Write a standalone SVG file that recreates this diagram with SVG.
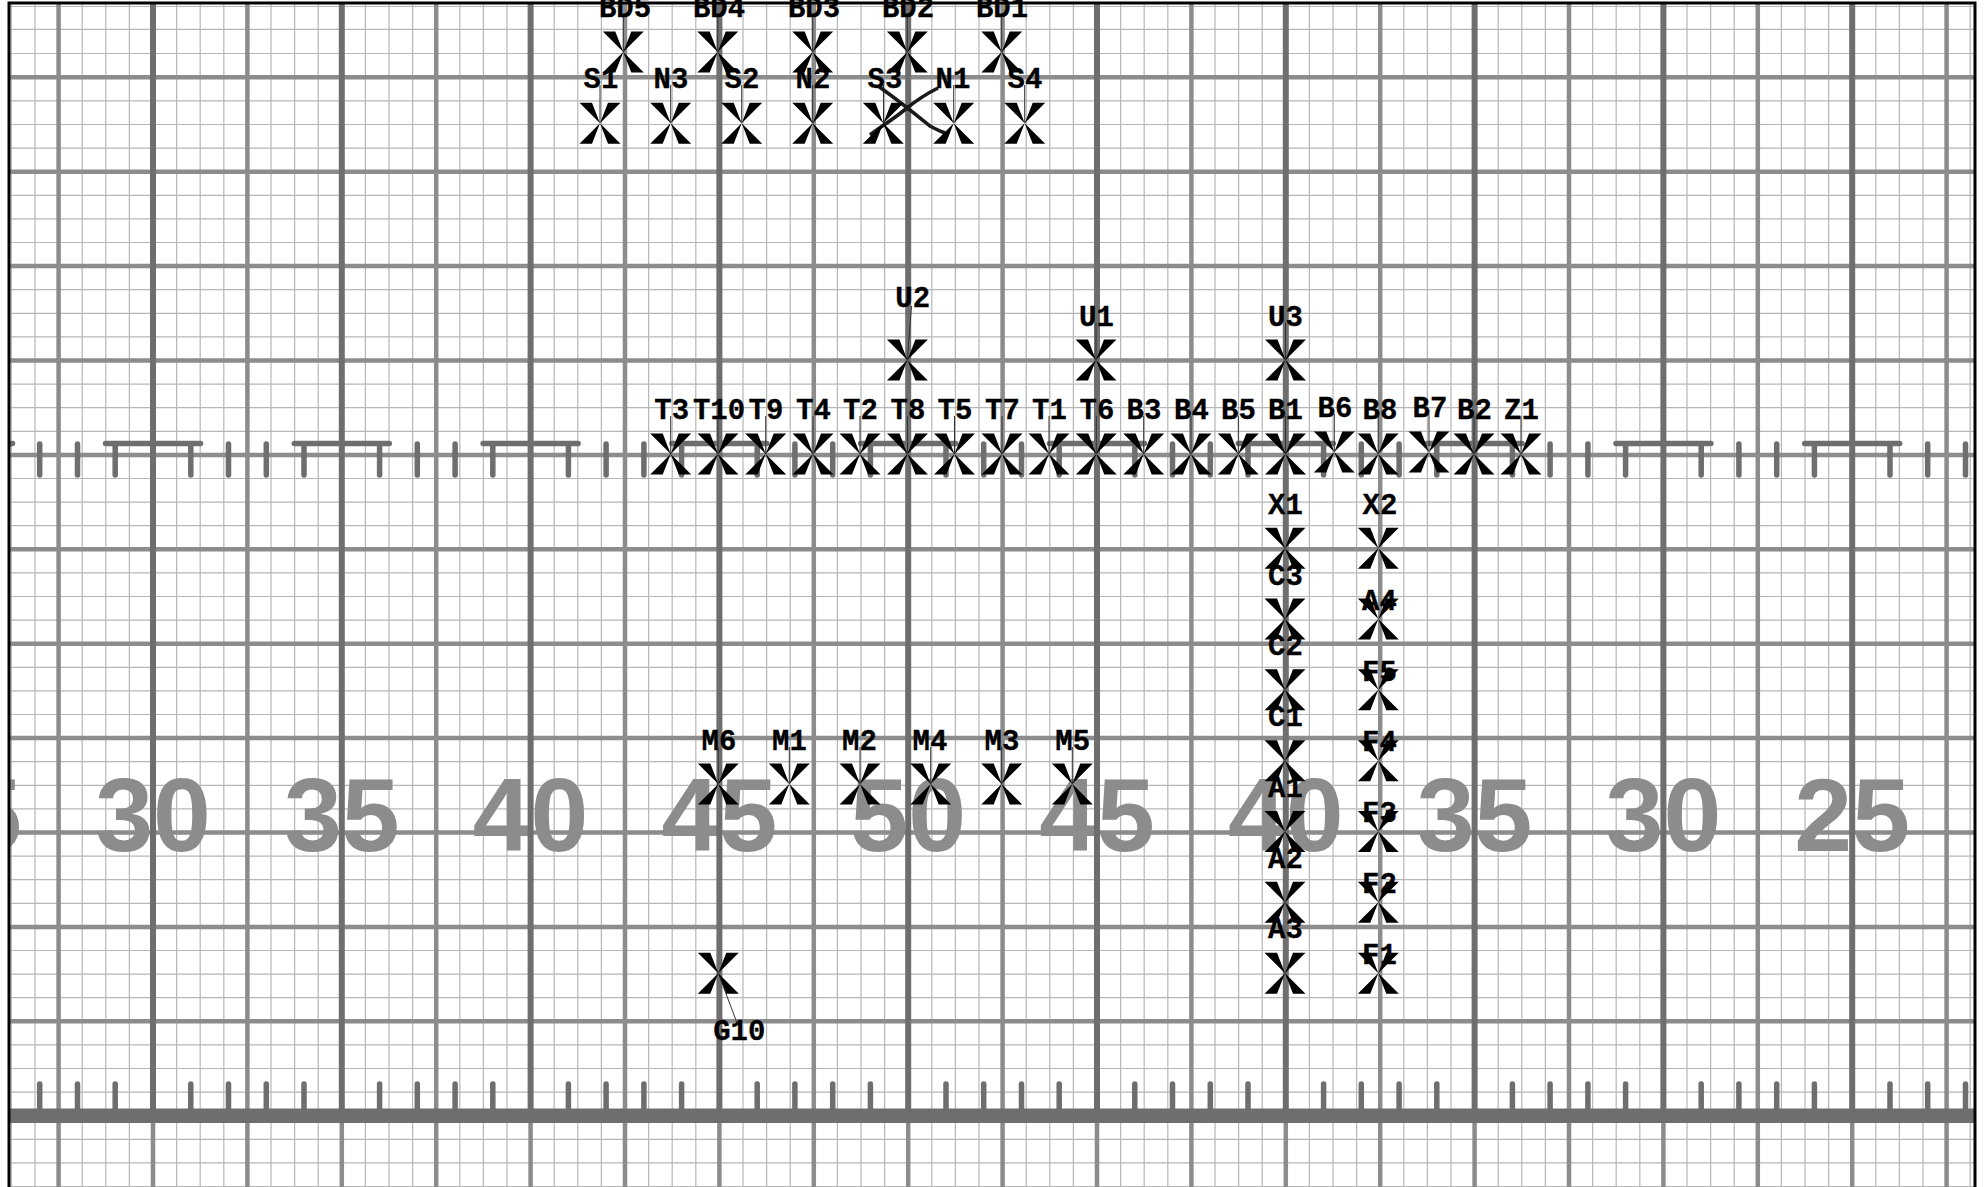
<svg xmlns="http://www.w3.org/2000/svg" width="1984" height="1187" viewBox="0 0 1984 1187">
<style>
.n{stroke:#b6b6b6;stroke-width:1.2;fill:none}
.g{stroke:#8c8c8c;stroke-width:4.5;fill:none}
.d{stroke:#6e6e6e;stroke-width:6;fill:none}
.t{stroke:#6e6e6e;stroke-width:5.5;stroke-linecap:round;fill:none}
.big{font:bold 104px "Liberation Sans",Arial,sans-serif;fill:#8c8c8c;text-anchor:middle}
.l{font:bold 29px "Liberation Mono","Courier New",monospace;fill:#000;text-anchor:middle;stroke:#000;stroke-width:.3}
.w{stroke:#333;stroke-width:1;fill:none}
.c{stroke:#1a1a1a;stroke-width:3.6;fill:none}
</style>
<defs>
<clipPath id="f"><rect x="9" y="3" width="1966" height="1184"/></clipPath>
<path id="x" d="M0 0L-20.5 -20.5H-8ZM0 0L20.5 -20.5H8ZM0 0L-20.5 20.5H-8ZM0 0L20.5 20.5H8Z" fill="#000"/>
</defs>
<rect width="1984" height="1187" fill="#fff"/>
<g id="grid" clip-path="url(#f)">
<path class="n" d="M11.4 0V1187M35 0V1187M82.2 0V1187M105.8 0V1187M129.4 0V1187M176.6 0V1187M200.2 0V1187M223.8 0V1187M271 0V1187M294.6 0V1187M318.2 0V1187M365.4 0V1187M389 0V1187M412.6 0V1187M459.8 0V1187M483.4 0V1187M507 0V1187M554.2 0V1187M577.8 0V1187M601.4 0V1187M648.6 0V1187M672.2 0V1187M695.8 0V1187M743 0V1187M766.6 0V1187M790.2 0V1187M837.4 0V1187M861 0V1187M884.6 0V1187M931.8 0V1187M955.4 0V1187M979 0V1187M1026.2 0V1187M1049.8 0V1187M1073.4 0V1187M1120.6 0V1187M1144.2 0V1187M1167.8 0V1187M1215 0V1187M1238.6 0V1187M1262.2 0V1187M1309.4 0V1187M1333 0V1187M1356.6 0V1187M1403.8 0V1187M1427.4 0V1187M1451 0V1187M1498.2 0V1187M1521.8 0V1187M1545.4 0V1187M1592.6 0V1187M1616.2 0V1187M1639.8 0V1187M1687 0V1187M1710.6 0V1187M1734.2 0V1187M1781.4 0V1187M1805 0V1187M1828.6 0V1187M1875.8 0V1187M1899.4 0V1187M1923 0V1187M1970.2 0V1187"/>
<path class="n" d="M0 6.5H1984M0 29.3H1984M0 53.5H1984M0 100.9H1984M0 124.5H1984M0 148.1H1984M0 195.3H1984M0 218.9H1984M0 242.5H1984M0 289.7H1984M0 313.3H1984M0 336.9H1984M0 384.1H1984M0 407.7H1984M0 431.3H1984M0 478.5H1984M0 502.1H1984M0 525.7H1984M0 572.9H1984M0 596.5H1984M0 620.1H1984M0 667.3H1984M0 690.9H1984M0 714.5H1984M0 761.7H1984M0 785.3H1984M0 808.9H1984M0 856.1H1984M0 879.7H1984M0 903.3H1984M0 950.5H1984M0 974.1H1984M0 997.7H1984M0 1044.9H1984M0 1068.5H1984M0 1092.1H1984M0 1139.3H1984M0 1162.9H1984M0 1186.5H1984"/>
<path class="g" d="M0 77.3H1984M0 171.7H1984M0 266.1H1984M0 360.5H1984M0 454.9H1984M0 549.3H1984M0 643.7H1984M0 738.1H1984M0 832.5H1984M0 926.9H1984M0 1021.3H1984"/>
<path class="g" d="M58.6 0V1187M247.4 0V1187M436.2 0V1187M625 0V1187M813.8 0V1187M1002.6 0V1187M1191.4 0V1187M1380.2 0V1187M1569 0V1187M1757.8 0V1187M1946.6 0V1187"/>
<path class="g" d="M153 1115V1187M341.8 1115V1187M530.6 1115V1187M719.4 1115V1187M908.2 1115V1187M1097 1115V1187M1285.8 1115V1187M1474.6 1115V1187M1663.4 1115V1187M1852.2 1115V1187"/>
<text class="big" x="-36" y="850.5">25</text><text class="big" x="153" y="850.5">30</text><text class="big" x="341.8" y="850.5">35</text><text class="big" x="530.6" y="850.5">40</text><text class="big" x="719.4" y="850.5">45</text><text class="big" x="908.2" y="850.5">50</text><text class="big" x="1097" y="850.5">45</text><text class="big" x="1285.8" y="850.5">40</text><text class="big" x="1474.6" y="850.5">35</text><text class="big" x="1663.4" y="850.5">30</text><text class="big" x="1852.2" y="850.5">25</text>
<path class="d" d="M153 0V1115M341.8 0V1115M530.6 0V1115M719.4 0V1115M908.2 0V1115M1097 0V1115M1285.8 0V1115M1474.6 0V1115M1663.4 0V1115M1852.2 0V1115"/>
<rect x="0" y="1108.5" width="1984" height="14.5" fill="#6e6e6e"/>
<path class="t" d="M39.7 444V475M77.5 444V475M115.2 444V475M190.8 444V475M228.5 444V475M266.3 444V475M304 444V475M379.6 444V475M417.3 444V475M455.1 444V475M492.8 444V475M568.4 444V475M606.1 444V475M643.9 444V475M681.6 444V475M757.2 444V475M794.9 444V475M832.7 444V475M870.4 444V475M946 444V475M983.7 444V475M1021.5 444V475M1059.2 444V475M1134.8 444V475M1172.5 444V475M1210.3 444V475M1248 444V475M1323.6 444V475M1361.3 444V475M1399.1 444V475M1436.8 444V475M1512.4 444V475M1550.1 444V475M1587.9 444V475M1625.6 444V475M1701.2 444V475M1738.9 444V475M1776.7 444V475M1814.4 444V475M1890 444V475M1927.7 444V475M1965.5 444V475"/>
<path class="t" d="M-85 443.5H12.5M105.5 443.5H200.5M294.3 443.5H389.3M483.1 443.5H578.1M671.9 443.5H766.9M860.7 443.5H955.7M1049.5 443.5H1144.5M1238.3 443.5H1333.3M1427.1 443.5H1522.1M1615.9 443.5H1710.9M1804.7 443.5H1899.7"/>
<path class="t" d="M39.7 1084V1112M77.5 1084V1112M115.2 1084V1112M190.8 1084V1112M228.5 1084V1112M266.3 1084V1112M304 1084V1112M379.6 1084V1112M417.3 1084V1112M455.1 1084V1112M492.8 1084V1112M568.4 1084V1112M606.1 1084V1112M643.9 1084V1112M681.6 1084V1112M757.2 1084V1112M794.9 1084V1112M832.7 1084V1112M870.4 1084V1112M946 1084V1112M983.7 1084V1112M1021.5 1084V1112M1059.2 1084V1112M1134.8 1084V1112M1172.5 1084V1112M1210.3 1084V1112M1248 1084V1112M1323.6 1084V1112M1361.3 1084V1112M1399.1 1084V1112M1436.8 1084V1112M1512.4 1084V1112M1550.1 1084V1112M1587.9 1084V1112M1625.6 1084V1112M1701.2 1084V1112M1738.9 1084V1112M1776.7 1084V1112M1814.4 1084V1112M1890 1084V1112M1927.7 1084V1112M1965.5 1084V1112"/>
</g>
<path id="frame" d="M9 1187V3H1975V1187" fill="none" stroke="#000" stroke-width="3"/>
<g id="connectors">
<path class="w" d="M600 123V85M670.7 123V85M741.7 123V85M812.7 123V85M883.5 123V85M953.7 123V85M1024.7 123V85M623.3 52V15M717.7 52V15M812.7 52V15M907.3 52V15M1001.7 52V15"/>
<path class="w" d="M907.4 360L911.5 306M1096 360V323M1285.5 360V323"/>
<path class="w" d="M670.7 454V416M718 454V416M765.7 454V416M813 454V416M860 454V416M907.5 454V416M954.5 454V416M1002 454V416M1049 454V416M1096.3 454V416M1143.7 454V416M1191 454V416M1238.3 454V416M1285.5 454V416M1334.3 452V414M1378.2 454V416M1429 452V414M1474 454V416M1521 454V416"/>
<path class="w" d="M718.3 784V747M789.3 784V747M860 784V747M930.7 784V747M1001.7 784V747M1072.3 784V747M718.3 973.3L736.7 1022"/>
<path class="c" d="M878 86C898 100 915 114 930 126C935 129 940 131 945 133"/>
<path class="c" d="M938 88C928 93 917 100 907 108C895 118 882 126 870 135"/>
</g>
<g id="S1"><use href="#x" x="600" y="123.3"/><text class="l" x="601" y="88">S1</text></g>
<g id="N3"><use href="#x" x="670.7" y="123.3"/><text class="l" x="671" y="88">N3</text></g>
<g id="S2"><use href="#x" x="741.7" y="123.3"/><text class="l" x="742" y="88">S2</text></g>
<g id="N2"><use href="#x" x="812.7" y="123.3"/><text class="l" x="813" y="88">N2</text></g>
<g id="S3"><use href="#x" x="883.3" y="123.3"/><text class="l" x="885" y="88">S3</text></g>
<g id="N1"><use href="#x" x="953.7" y="123.3"/><text class="l" x="953" y="88">N1</text></g>
<g id="S4"><use href="#x" x="1024.7" y="123.3"/><text class="l" x="1025" y="88">S4</text></g>
<g id="BD5"><use href="#x" x="623.3" y="52"/><text class="l" x="625" y="17">BD5</text></g>
<g id="BD4"><use href="#x" x="717.7" y="52"/><text class="l" x="719" y="17">BD4</text></g>
<g id="BD3"><use href="#x" x="812.7" y="52"/><text class="l" x="814" y="17">BD3</text></g>
<g id="BD2"><use href="#x" x="907.3" y="52"/><text class="l" x="908" y="17">BD2</text></g>
<g id="BD1"><use href="#x" x="1001.7" y="52"/><text class="l" x="1002" y="17">BD1</text></g>
<g id="U2"><use href="#x" x="907.4" y="360"/><text class="l" x="912.7" y="307">U2</text></g>
<g id="U1"><use href="#x" x="1096" y="360"/><text class="l" x="1096.5" y="326">U1</text></g>
<g id="U3"><use href="#x" x="1285.5" y="360"/><text class="l" x="1285.5" y="326">U3</text></g>
<g id="T3"><use href="#x" x="670.7" y="454"/><text class="l" x="671.7" y="419">T3</text></g>
<g id="T10"><use href="#x" x="718" y="454"/><text class="l" x="719" y="419">T10</text></g>
<g id="T9"><use href="#x" x="765.7" y="454"/><text class="l" x="766" y="419">T9</text></g>
<g id="T4"><use href="#x" x="813" y="454"/><text class="l" x="813.5" y="419">T4</text></g>
<g id="T2"><use href="#x" x="860" y="454"/><text class="l" x="860.5" y="419">T2</text></g>
<g id="T8"><use href="#x" x="907.5" y="454"/><text class="l" x="908" y="419">T8</text></g>
<g id="T5"><use href="#x" x="954.5" y="454"/><text class="l" x="955" y="419">T5</text></g>
<g id="T7"><use href="#x" x="1002" y="454"/><text class="l" x="1002.5" y="419">T7</text></g>
<g id="T1"><use href="#x" x="1049" y="454"/><text class="l" x="1049.5" y="419">T1</text></g>
<g id="T6"><use href="#x" x="1096.3" y="454"/><text class="l" x="1097" y="419">T6</text></g>
<g id="B3"><use href="#x" x="1143.7" y="454"/><text class="l" x="1144" y="419">B3</text></g>
<g id="B4"><use href="#x" x="1191" y="454"/><text class="l" x="1191.5" y="419">B4</text></g>
<g id="B5"><use href="#x" x="1238.3" y="454"/><text class="l" x="1238.5" y="419">B5</text></g>
<g id="B1"><use href="#x" x="1285.5" y="454"/><text class="l" x="1285.5" y="419">B1</text></g>
<g id="B6"><use href="#x" x="1334.3" y="452"/><text class="l" x="1335" y="417">B6</text></g>
<g id="B8"><use href="#x" x="1378.2" y="454"/><text class="l" x="1380" y="419">B8</text></g>
<g id="B7"><use href="#x" x="1429" y="452"/><text class="l" x="1430" y="417">B7</text></g>
<g id="B2"><use href="#x" x="1474" y="454"/><text class="l" x="1474.5" y="419">B2</text></g>
<g id="Z1"><use href="#x" x="1521" y="454"/><text class="l" x="1521.5" y="419">Z1</text></g>
<g id="X1"><use href="#x" x="1285" y="548.3"/><text class="l" x="1285.5" y="514">X1</text></g>
<g id="C3"><use href="#x" x="1285" y="619"/><text class="l" x="1285.5" y="584.5">C3</text></g>
<g id="C2"><use href="#x" x="1285" y="689.8"/><text class="l" x="1285.5" y="654.5">C2</text></g>
<g id="C1"><use href="#x" x="1285" y="760.7"/><text class="l" x="1285.5" y="725.5">C1</text></g>
<g id="A1"><use href="#x" x="1285" y="831.5"/><text class="l" x="1285.5" y="796.5">A1</text></g>
<g id="A2"><use href="#x" x="1285" y="902.3"/><text class="l" x="1285.5" y="867.5">A2</text></g>
<g id="A3"><use href="#x" x="1285" y="973.2"/><text class="l" x="1285.5" y="938">A3</text></g>
<g id="X2"><use href="#x" x="1378.3" y="548.3"/><text class="l" x="1380" y="514">X2</text></g>
<g id="A4"><use href="#x" x="1378.3" y="619"/><text class="l" x="1379.5" y="610">A4</text></g>
<g id="F5"><use href="#x" x="1378.3" y="689.8"/><text class="l" x="1379.5" y="680.5">F5</text></g>
<g id="F4"><use href="#x" x="1378.3" y="760.7"/><text class="l" x="1379.5" y="751">F4</text></g>
<g id="F3"><use href="#x" x="1378.3" y="831.5"/><text class="l" x="1379.5" y="822">F3</text></g>
<g id="F2"><use href="#x" x="1378.3" y="902.3"/><text class="l" x="1379.5" y="892.5">F2</text></g>
<g id="F1"><use href="#x" x="1378.3" y="973.2"/><text class="l" x="1379.5" y="963.5">F1</text></g>
<g id="M6"><use href="#x" x="718.3" y="784"/><text class="l" x="719" y="750">M6</text></g>
<g id="M1"><use href="#x" x="789.3" y="784"/><text class="l" x="789.5" y="750">M1</text></g>
<g id="M2"><use href="#x" x="860" y="784"/><text class="l" x="859.5" y="750">M2</text></g>
<g id="M4"><use href="#x" x="930.7" y="784"/><text class="l" x="930" y="750">M4</text></g>
<g id="M3"><use href="#x" x="1001.7" y="784"/><text class="l" x="1002" y="750">M3</text></g>
<g id="M5"><use href="#x" x="1072.3" y="784"/><text class="l" x="1072.7" y="750">M5</text></g>
<g id="G10"><use href="#x" x="718.3" y="973.3"/><text class="l" x="739.3" y="1040">G10</text></g>
</svg>
